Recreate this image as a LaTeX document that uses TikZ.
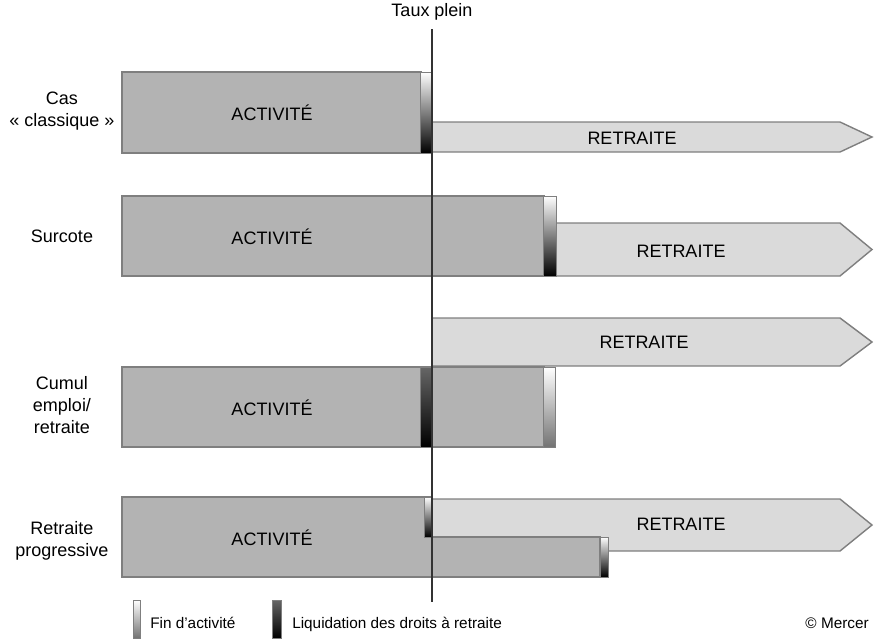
\documentclass[tikz,border=0pt]{standalone}
\usepackage{fontspec}
\setmainfont{Liberation Sans}
\definecolor{actif}{HTML}{B3B3B3}
\definecolor{retraite}{HTML}{DADADA}
\definecolor{bord}{HTML}{7F7F7F}
\definecolor{axe}{HTML}{333333}
\begin{document}
\begin{tikzpicture}[x=0.025cm,y=-0.025cm,
	activite/.style={fill=actif,draw=bord,line width=1pt},
	pension/.style={fill=retraite,draw=bord,line width=1pt},
	fin/.style={top color=white,bottom color=black!55,draw=bord,line width=0.5pt},
	liquid/.style={top color=black!60,bottom color=black,draw=bord,line width=0.5pt},
	finliq/.style={top color=white,bottom color=black,draw=bord,line width=0.5pt},
	txt/.style={font=\fontsize{12.8}{15.6}\selectfont,align=center,inner sep=0pt},
	petit/.style={font=\fontsize{10.9}{13}\selectfont,inner sep=0pt}]
			    \useasboundingbox (0,0) rectangle (875,640);
			    \node [txt] (taux) at (432,12) {Taux plein};
			    \draw [pension] (432,122) -- (840,122) -- (872,137) -- (840,152) -- (432,152) -- cycle;
			    \draw [activite] (122,72) rectangle (421,153);
			    \draw [finliq] (420,72) rectangle (432,153);
			    \node [txt] (cas) at (62,111) {Cas\\«~classique~»};
			    \node [txt] (act1) at (272,113) {ACTIVITÉ};
			    \node [txt] (ret1) at (632,138) {RETRAITE};
			    \draw [pension] (556,223) -- (840,223) -- (872,249.5) -- (840,276) -- (556,276) -- cycle;
			    \draw [activite] (122,196) rectangle (544,276);
			    \draw [finliq] (543,196) rectangle (556,276);
			    \node [txt] (surcote) at (62,236) {Surcote};
			    \node [txt] (act2) at (272,237) {ACTIVITÉ};
			    \node [txt] (ret2) at (681,251) {RETRAITE};
			    \draw [pension] (432,318) -- (840,318) -- (872,342) -- (840,366) -- (432,366) -- cycle;
			    \draw [activite] (122,367) rectangle (544,447);
			    \draw [liquid] (420,367) rectangle (432,447);
			    \draw [fin] (543,367) rectangle (555,447);
			    \node [txt] (cumul) at (62,405) {Cumul\\emploi/\\retraite};
			    \node [txt] (act3) at (272,408) {ACTIVITÉ};
			    \node [txt] (ret3) at (644,342) {RETRAITE};
			    \draw [pension] (432,499) -- (840,499) -- (872,525) -- (840,551) -- (432,551) -- cycle;
			    \draw [activite] (122,497) rectangle (432,577);
			    \draw [activite] (432,537) rectangle (600,577);
			    \draw [finliq] (424,497) rectangle (432,537);
			    \draw [finliq] (600,537) rectangle (608,577);
			    \node [txt] (progr) at (62,541) {Retraite\\progressive};
			    \node [txt] (act4) at (272,538) {ACTIVITÉ};
			    \node [txt] (ret4) at (681,524) {RETRAITE};
			    \coordinate (haut) at (432,29);
			    \coordinate (bas) at (432,602);
			    \draw [color=axe,line width=1.4pt] (haut) -- (bas);
			    \draw [fin] (133,600) rectangle (140,638);
			    \node [petit,anchor=base west] (lfin) at (150,628) {Fin d'activité};
			    \draw [liquid] (272,600) rectangle (281,638);
			    \node [petit,anchor=base west] (lliq) at (292,628) {Liquidation des droits à retraite};
			    \node [petit,anchor=base east] (mercer) at (869,628) {© Mercer};
			\end{tikzpicture}
\end{document}
